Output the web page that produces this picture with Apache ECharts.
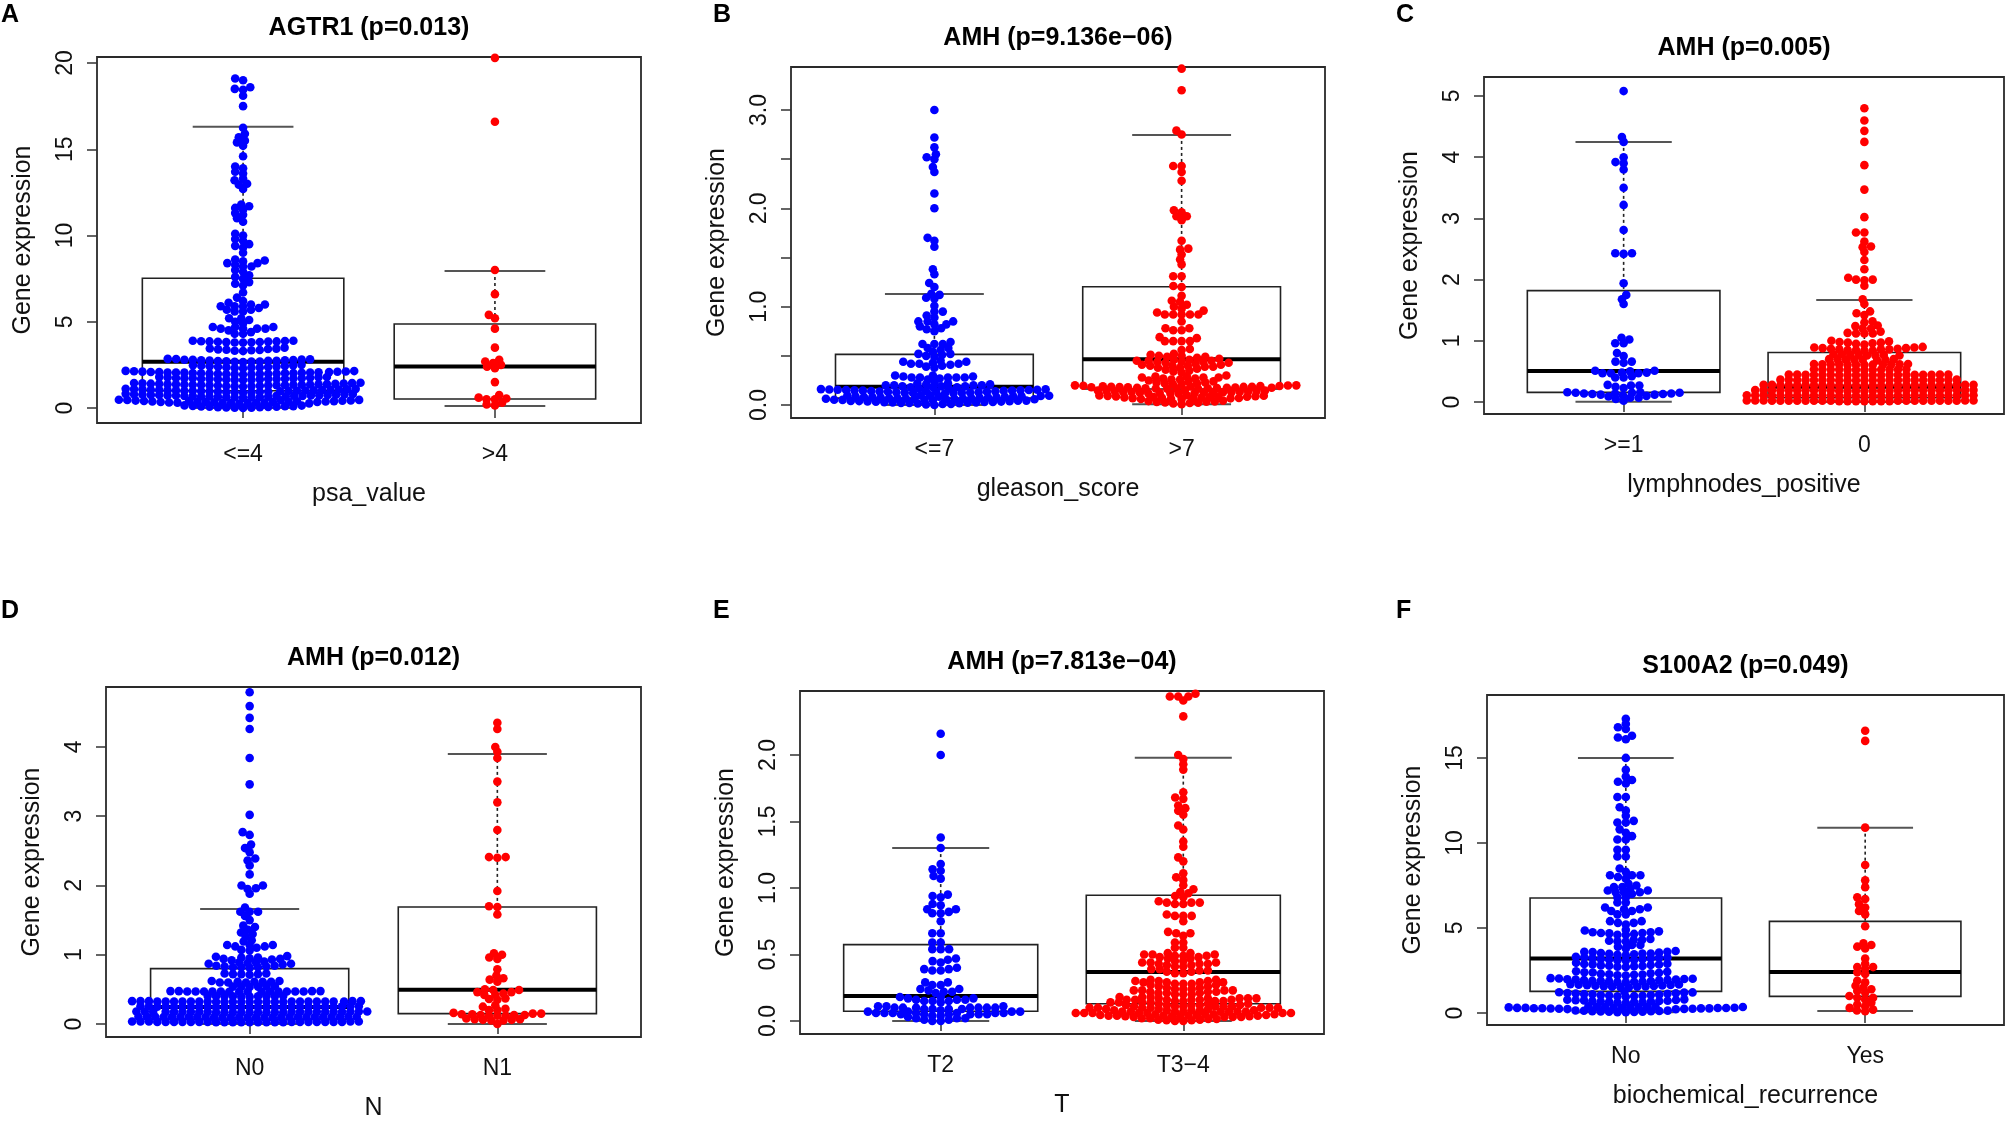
<!DOCTYPE html>
<html><head><meta charset="utf-8">
<script src="https://cdn.jsdelivr.net/npm/echarts@6/dist/echarts.min.js"></script>
<style>html,body{margin:0;padding:0;background:#fff}#c{width:2008px;height:1122px}</style>
</head><body><div id="c"></div>
<script>
// ---------------- DATA ----------------
const titles = ['AGTR1 (p=0.013)','AMH (p=9.136e\u221206)','AMH (p=0.005)','AMH (p=0.012)','AMH (p=7.813e\u221204)','S100A2 (p=0.049)'];
const letters = ['A','B','C','D','E','F'];
const xNames = ['psa_value','gleason_score','lymphnodes_positive','N','T','biochemical_recurrence'];
const categories = [['<=4','>4'],['<=7','>7'],['>=1','0'],['N0','N1'],['T2','T3\u22124'],['No','Yes']];
const yTicks = [[0,5,10,15,20],[0,0.5,1,1.5,2,2.5,3],[0,1,2,3,4,5],[0,1,2,3,4],[0,0.5,1,1.5,2],[0,5,10,15]];
const yTickLabels = [[0,5,10,15,20],[0,1,2,3],[0,1,2,3,4,5],[0,1,2,3,4],[0,0.5,1,1.5,2],[0,5,10,15]];
const yRanges = [[-0.87,20.35],[-0.132,3.437],[-0.196,5.31],[-0.188,4.866],[-0.098,2.481],[-0.706,18.7]];

// box stats: [lower whisker, Q1, median, Q3, upper whisker]
const boxA1 = [0.0, 1.0, 2.68, 7.52, 16.3];
const boxA2 = [0.12, 0.52, 2.40, 4.87, 7.94];
const boxB1 = [0.0, 0.07, 0.186, 0.515, 1.13];
const boxB2 = [0.007, 0.163, 0.465, 1.203, 2.746];
const boxC1 = [0.005, 0.158, 0.507, 1.82, 4.25];
const boxC2 = [0.0, 0.07, 0.25, 0.81, 1.667];
const boxD1 = [0.0, 0.07, 0.245, 0.80, 1.66];
const boxD2 = [0.0, 0.149, 0.496, 1.69, 3.90];
const boxE1 = [0.0, 0.073, 0.188, 0.574, 1.30];
const boxE2 = [0.0, 0.13, 0.368, 0.945, 1.98];
const boxF1 = [0.04, 1.27, 3.20, 6.76, 15.0];
const boxF2 = [0.12, 0.98, 2.41, 5.39, 10.9];

const aBlue = [19.1,19.0,18.6,18.5,18.45,18.1,17.5,16.25,15.9,15.7,15.5,15.4,15.2,14.6,14.0,13.9,13.7,13.6,13.3,13.2,13.0,12.95,12.7,
11.8,11.7,11.6,11.5,11.3,11.2,11.0,10.8,10.1,10.0,9.8,9.7,9.5,9.4,9.3,9.0,
8.6,8.55,8.5,8.4,8.4,8.3,8.2,8.2,8.0,7.9,7.7,7.6,7.5,7.3,7.2,7.1,
6.7,6.4,6.2,6.1,6.0,6.0,5.9,5.9,5.9,5.8,5.7,5.7,5.6,5.6,
5.2,5.2,5.1,5.0,4.9,4.7,4.7,4.7,4.6,4.6,4.6,4.6,4.5,4.4,4.3,4.3,
3.9,3.88,3.86,3.85,3.84,3.82,3.8,3.9,3.87,3.83,3.86,3.81,3.79,
3.5,3.45,3.42,3.4,3.38,3.35,3.3,3.44,3.36,3.32,
2.85,2.82,2.8,2.78,2.76,2.75,2.74,2.72,2.7,2.68,2.66,2.84,2.79,2.73,2.71,2.69,2.77,2.81,
2.5,2.47,2.45,2.42,2.4,2.38,2.36,2.34,2.32,2.3,2.44,2.39,2.35,2.48,
2.15,2.12,2.1,2.08,2.06,2.05,2.04,2.02,2.0,1.98,1.96,1.95,2.11,2.09,2.07,2.03,2.01,1.99,1.97,2.13,2.14,1.94,2.0,2.06,2.05,2.02,2.08,1.99,
1.8,1.78,1.75,1.73,1.72,1.7,1.68,1.66,1.65,1.62,1.77,1.74,1.71,1.69,1.67,1.64,1.79,1.63,1.7,1.72,1.68,
1.45,1.43,1.42,1.4,1.38,1.37,1.36,1.35,1.34,1.32,1.3,1.28,1.27,1.44,1.41,1.39,1.33,1.31,1.29,1.26,1.25,1.46,1.35,1.36,1.35,1.38,1.32,1.4,
1.12,1.1,1.08,1.06,1.05,1.03,1.02,1.0,0.99,0.97,0.96,0.95,0.93,0.92,1.11,1.09,1.07,1.04,1.01,0.98,0.94,0.91,0.9,1.0,1.0,1.03,0.97,1.05,
0.82,0.8,0.78,0.76,0.75,0.73,0.72,0.7,0.68,0.67,0.66,0.65,0.63,0.62,0.81,0.79,0.77,0.74,0.71,0.69,0.64,0.61,0.6,0.7,0.7,0.73,0.67,0.75,
0.48,0.46,0.45,0.43,0.42,0.4,0.39,0.38,0.36,0.35,0.34,0.33,0.31,0.3,0.47,0.44,0.41,0.37,0.32,0.29,0.28,0.27,0.26,0.35,0.35,0.38,0.32,0.4,0.3,
0.15,0.14,0.12,0.11,0.1,0.09,0.08,0.07,0.06,0.05,0.04,0.03,0.02,0.01,0.0];
const aRed = [20.3,16.6,8.0,6.6,5.4,5.2,4.6,3.5,2.8,2.7,2.6,2.5,2.4,2.3,1.5,0.75,0.6,0.55,0.5,0.5,0.3,0.2,0.15];

const bBlue = [3.0,2.72,2.62,2.55,2.52,2.5,2.42,2.37,2.15,2.0,1.7,1.67,1.61,1.38,1.33,1.24,1.2,1.13,1.12,1.09,1.08,1.01,0.95,0.95,0.91,0.89,0.85,0.85,0.85,0.82,0.82,0.8,0.78,0.77,0.75,0.64,0.62,0.62,0.62,0.58,0.58,0.56,0.54,0.52,0.52,0.51,0.5,0.49,
0.45,0.44,0.44,0.43,0.42,0.42,0.42,0.41,0.4,0.39,0.38,
0.3,0.3,0.29,0.29,0.28,0.28,0.28,0.28,0.28,0.27,0.26,
0.23,0.22,0.22,0.21,0.21,0.2,0.2,0.2,0.2,0.19,0.19,0.19,0.18,0.18,0.18,0.17,
0.165,0.162,0.16,0.158,0.156,0.155,0.153,0.152,0.15,0.149,0.148,0.146,0.145,0.143,0.142,0.14,0.138,0.136,0.135,0.133,0.131,0.13,0.128,0.126,0.125,0.123,0.121,0.12,
0.1,0.098,0.096,0.094,0.092,0.09,0.088,0.086,0.085,0.083,0.082,0.08,0.078,0.076,0.075,0.073,0.072,0.07,0.068,0.066,0.065,0.063,0.062,0.06,0.058,0.056,0.055,0.053,0.052,0.05,
0.045,0.043,0.041,0.04,0.038,0.036,0.035,0.033,0.031,0.03,0.028,0.026,0.025,0.023,0.021,0.02,0.018,0.015,0.012,0.01,0.005,0.0];
const bRed = [3.42,3.2,2.79,2.75,2.43,2.43,2.37,2.28,1.98,1.96,1.92,1.92,1.88,1.67,1.59,1.58,1.53,1.48,1.43,1.31,1.31,1.21,1.2,1.11,1.06,1.05,1.02,1.0,0.98,0.96,0.94,0.92,0.92,0.92,0.92,0.92,0.85,0.78,0.78,0.76,0.76,0.69,0.68,0.65,0.65,0.65,0.65,0.57,0.56,
0.52,0.51,0.5,0.5,0.49,0.49,0.48,
0.47,0.46,0.46,0.45,0.45,0.45,0.44,0.44,0.44,0.43,0.43,0.42,
0.41,0.41,0.4,0.4,0.4,0.39,0.39,0.38,0.38,0.37,
0.36,0.35,0.34,0.33,
0.3,0.29,0.29,0.28,0.28,0.28,0.27,0.27,0.26,0.26,
0.25,0.24,0.24,0.23,0.23,0.22,0.22,0.21,0.21,0.2,
0.2,0.198,0.196,0.194,0.192,0.19,0.188,0.186,0.185,0.184,0.182,0.18,0.179,0.178,0.176,0.175,0.174,0.172,0.17,0.169,0.168,0.166,0.165,0.164,
0.15,0.148,0.146,0.144,0.142,0.14,0.138,0.136,0.135,0.133,0.131,0.13,0.128,0.126,0.125,0.123,0.121,0.12,0.118,0.115,
0.1,0.098,0.095,0.093,0.09,0.088,0.086,0.084,0.082,0.08,0.078,0.076,0.074,0.072,0.07,0.068,0.066,0.064,0.062,0.06,
0.045,0.04,0.037,0.034,0.03,0.027,0.024,0.02,0.015,0.008];

const cBlue = [5.08,4.33,4.25,4.0,3.92,3.9,3.8,3.5,3.22,2.81,2.43,2.43,2.42,1.94,1.75,1.68,1.6,1.05,1.02,0.96,0.96,0.8,0.75,0.66,0.64,0.66,
0.51,0.47,0.42,0.48,0.51,0.47,0.48,0.47,0.5,0.4,0.4,0.28,0.25,0.23,0.27,0.27,
0.16,0.15,0.14,0.13,0.14,0.15,0.12,0.13,0.14,0.15,0.16,0.12,0.11,0.07,0.05,0.02,0.07,0.1,0.09];
const cRed = [4.8,4.6,4.43,4.25,3.87,3.47,3.02,2.77,2.77,2.62,2.54,2.53,2.45,2.32,2.17,2.03,2.0,2.0,1.99,1.9,1.68,1.6,1.48,1.45,1.42,1.32,1.3,1.25,1.24,1.2,1.2,1.15,1.13,1.12,1.12,1.12,
1.0,0.99,0.98,0.97,0.97,0.96,0.95,0.94,
0.9,0.89,0.89,0.88,0.88,0.87,0.87,0.86,0.86,0.86,0.85,0.85,0.84,0.84,
0.78,0.78,0.77,0.77,0.77,0.76,0.76,0.76,
0.7,0.7,0.7,0.69,0.69,0.69,0.69,0.68,
0.62,0.62,0.615,0.615,0.615,0.615,0.615,0.61,0.61,0.61,0.61,0.61,
0.535,0.535,0.53,0.53,0.53,0.53,0.53,0.53,0.525,0.525,0.525,0.525,
0.45,0.45,0.45,0.45,0.445,0.445,0.445,0.445,0.445,0.445,0.445,0.445,0.445,0.445,0.44,0.44,0.44,0.44,0.44,0.44,
0.365,0.365,0.365,0.365,0.36,0.36,0.36,0.36,0.36,0.36,0.36,0.36,0.36,0.36,0.36,0.36,0.355,0.355,0.355,0.355,0.355,0.355,
0.28,0.28,0.28,0.28,0.28,0.275,0.275,0.275,0.275,0.275,0.275,0.275,0.275,0.275,0.275,0.275,0.275,0.275,0.275,0.275,0.27,0.27,0.27,0.27,0.27,0.27,
0.195,0.195,0.195,0.195,0.195,0.19,0.19,0.19,0.19,0.19,0.19,0.19,0.19,0.19,0.19,0.19,0.19,0.19,0.19,0.19,0.185,0.185,0.185,0.185,0.185,0.185,0.185,
0.11,0.11,0.11,0.11,0.11,0.105,0.105,0.105,0.105,0.105,0.105,0.105,0.105,0.105,0.105,0.105,0.105,0.105,0.105,0.105,0.105,0.1,0.1,0.1,0.1,0.1,0.1,0.1,
0.025,0.025,0.025,0.025,0.025,0.02,0.02,0.02,0.02,0.02,0.02,0.02,0.02,0.02,0.02,0.02,0.02,0.02,0.02,0.02,0.02,0.015,0.015,0.015,0.015,0.015,0.015,0.015];

const dBlue = [4.79,4.59,4.42,4.26,3.84,3.46,3.02,2.77,2.73,2.59,2.54,2.48,2.39,2.36,2.29,2.16,2.0,2.0,1.96,1.95,1.88,1.68,1.62,1.62,1.62,1.56,1.5,1.42,1.4,1.36,1.32,1.3,1.26,1.21,1.19,1.14,1.14,1.14,1.12,1.12,1.1,1.07,1.06,
0.98,0.97,0.96,0.96,0.95,0.94,0.94,0.93,0.92,
0.9,0.89,0.89,0.88,0.87,0.87,0.86,
0.84,0.84,0.83,0.83,0.82,0.82,0.82,0.81,
0.73,0.73,0.72,0.72,0.72,0.71,
0.62,0.62,0.61,0.61,0.61,0.61,0.6,0.6,0.6,
0.545,0.545,0.54,0.54,0.54,0.535,
0.475,0.475,0.475,0.475,0.47,0.47,0.47,0.47,0.47,0.47,0.47,0.47,0.47,0.47,0.465,0.465,0.465,0.465,
0.405,0.405,0.4,0.4,0.4,0.4,0.4,0.4,0.395,0.395,
0.33,0.33,0.33,0.33,0.33,0.325,0.325,0.325,0.325,0.325,0.325,0.325,0.325,0.325,0.325,0.325,0.325,0.325,0.325,0.32,0.32,0.32,0.32,0.32,0.32,0.32,0.32,0.32,
0.255,0.255,0.255,0.255,0.255,0.25,0.25,0.25,0.25,0.25,0.25,0.25,0.25,0.25,0.25,0.25,0.25,0.25,0.245,0.245,0.245,0.245,0.245,0.245,0.245,0.245,0.245,
0.18,0.18,0.18,0.18,0.18,0.175,0.175,0.175,0.175,0.175,0.175,0.175,0.175,0.175,0.175,0.175,0.175,0.175,0.175,0.17,0.17,0.17,0.17,0.17,0.17,0.17,0.17,0.17,
0.105,0.105,0.105,0.105,0.105,0.1,0.1,0.1,0.1,0.1,0.1,0.1,0.1,0.1,0.1,0.1,0.1,0.1,0.095,0.095,0.095,0.095,0.095,0.095,0.095,0.095,0.095,
0.035,0.035,0.035,0.035,0.035,0.03,0.03,0.03,0.03,0.03,0.03,0.03,0.03,0.03,0.03,0.03,0.03,0.03,0.03,0.025,0.025,0.025,0.025,0.025,0.025,0.025,0.025,0.025];
const dRed = [4.35,4.26,4.0,3.93,3.84,3.5,3.2,2.8,2.41,2.4,2.41,1.92,1.7,1.69,1.58,1.02,1.0,0.96,0.94,0.79,0.7,0.66,0.64,0.61,0.5,0.49,0.49,0.46,0.46,0.44,0.42,0.42,0.37,0.36,0.35,0.27,0.25,0.22,0.2,0.2,0.16,0.15,0.15,0.14,0.14,0.13,0.13,0.13,0.12,0.12,0.12,0.08,0.07,0.07,0.06,0.06,0.05,0.05,0.0];

const eBlue = [2.16,2.0,1.38,1.3,1.18,1.14,1.13,1.09,1.07,0.95,0.94,0.93,0.88,0.87,0.84,0.84,0.82,0.81,0.81,0.75,0.66,0.66,0.59,0.59,0.54,0.54,0.54,0.47,0.46,0.45,0.44,0.4,0.39,0.39,0.38,0.38,0.29,0.29,0.27,0.27,0.24,0.24,0.23,0.22,0.22,0.21,
0.18,0.18,0.17,0.17,0.16,0.16,0.16,0.15,0.15,0.15,0.14,
0.11,0.11,0.11,0.1,0.1,0.1,0.1,0.1,0.09,0.09,0.09,0.09,0.08,0.1,0.1,
0.07,0.07,0.07,0.07,0.06,0.06,0.06,0.06,0.06,0.05,0.05,0.05,0.05,0.05,0.04,0.04,0.06,0.06,0.05,
0.03,0.02,0.02,0.02,0.01,0.01,0.0,0.0];
const eRed = [2.46,2.44,2.44,2.44,2.41,2.29,2.0,1.97,1.93,1.89,1.72,1.68,1.67,1.62,1.6,1.58,1.55,1.47,1.44,1.35,1.31,1.23,1.2,1.11,1.08,1.06,1.02,0.99,0.97,0.96,0.94,0.93,0.9,0.89,0.89,0.89,0.88,0.88,0.79,0.79,0.79,0.8,0.75,0.67,0.66,0.66,0.64,0.59,0.59,0.55,0.55,
0.51,0.51,0.5,0.5,0.5,0.49,0.49,0.49,0.48,0.48,0.47,0.47,
0.45,0.45,0.44,0.44,0.44,0.43,0.43,0.43,0.42,0.42,0.41,0.41,
0.39,0.39,0.38,0.38,0.37,0.37,0.36,0.36,
0.31,0.31,0.3,0.3,0.3,0.29,0.29,0.29,0.29,0.28,0.28,0.28,0.27,0.27,0.26,0.26,
0.25,0.25,0.24,0.24,0.24,0.23,0.23,0.23,0.23,0.22,0.22,0.22,0.21,0.21,0.21,0.2,0.2,0.2,
0.18,0.18,0.17,0.17,0.17,0.17,0.16,0.16,0.16,0.16,0.16,0.15,0.15,0.15,0.15,0.14,0.14,0.14,0.14,0.13,0.13,0.18,0.17,0.16,
0.12,0.12,0.12,0.11,0.11,0.11,0.11,0.11,0.1,0.1,0.1,0.1,0.1,0.09,0.09,0.09,0.12,0.11,0.1,0.13,0.12,0.1,
0.08,0.08,0.08,0.07,0.07,0.07,0.07,0.07,0.07,0.06,0.06,0.06,0.06,0.06,0.05,0.05,0.05,0.08,0.07,0.06,0.08,0.07,0.06,0.05,
0.045,0.045,0.04,0.04,0.04,0.04,0.035,0.035,0.035,0.03,0.03,0.03,0.045,0.04,0.035,0.03,
0.02,0.02,0.015,0.015,0.01,0.01,0.005,0.005,0.0,0.0];

const fBlue = [17.3,17.0,16.8,16.7,16.3,16.2,16.1,15.0,14.3,13.9,13.7,13.6,13.5,12.7,12.7,12.1,11.9,11.6,11.3,11.2,11.2,10.8,10.6,10.4,10.2,10.2,9.6,9.6,9.2,9.2,8.5,8.3,8.1,8.1,8.1,8.0,7.9,7.6,7.5,7.4,7.4,7.3,7.2,7.2,7.1,7.1,7.1,7.0,6.8,6.8,6.5,6.5,6.2,6.2,6.1,6.1,6.0,6.0,5.8,5.8,5.4,5.4,5.3,5.3,5.2,4.9,
4.85,4.8,4.75,4.7,4.7,4.65,4.6,4.6,4.75,4.68,
4.35,4.3,4.25,4.2,4.3,4.22,4.0,4.0,3.9,3.8,
3.65,3.6,3.58,3.55,3.52,3.5,3.48,3.45,3.42,3.4,3.6,3.5,
3.3,3.28,3.25,3.22,3.2,3.18,3.15,3.12,3.1,3.08,3.26,3.16,
2.95,2.9,2.88,2.85,2.82,2.8,2.78,2.75,2.72,2.7,2.86,2.76,
2.45,2.42,2.4,2.36,2.33,2.3,2.28,2.25,2.22,2.2,2.38,2.26,
2.05,2.03,2.0,1.98,1.96,1.94,1.92,1.9,1.88,1.86,1.84,1.82,1.8,2.01,1.95,1.89,1.85,1.97,
1.7,1.68,1.66,1.64,1.62,1.6,1.58,1.56,1.54,1.52,1.5,1.65,1.59,1.55,
1.25,1.22,1.2,1.18,1.15,1.13,1.1,1.08,1.05,1.03,1.0,0.98,0.96,1.21,1.16,1.11,1.06,1.01,
0.8,0.78,0.76,0.74,0.72,0.7,0.68,0.66,0.64,0.62,0.6,0.75,0.71,0.67,0.65,
0.4,0.38,0.37,0.36,0.35,0.34,0.33,0.32,0.31,0.3,0.3,0.29,0.29,0.28,0.28,0.27,0.26,0.25,0.24,0.23,0.22,0.35,0.32,0.3,0.27,0.25,
0.15,0.14,0.13,0.12,0.11,0.1,0.09,0.08,0.07,0.06,0.05,0.04];
const fRed = [16.6,16.0,10.9,8.7,7.8,7.4,6.8,6.7,6.4,6.2,6.0,5.8,5.1,4.1,4.0,3.9,3.8,3.2,2.9,2.7,2.7,2.6,2.4,2.3,1.9,1.8,1.6,1.5,1.4,1.3,1.2,1.0,0.9,0.9,0.8,0.6,0.5,0.4,0.3,0.2,0.15,0.1];

const groupValues = [[aBlue,aRed],[bBlue,bRed],[cBlue,cRed],[dBlue,dRed],[eBlue,eRed],[fBlue,fRed]];
const boxStats = [[boxA1,boxA2],[boxB1,boxB2],[boxC1,boxC2],[boxD1,boxD2],[boxE1,boxE2],[boxF1,boxF2]];
const yDecimals = [0,1,0,0,1,0];

// ---------------- LAYOUT / STYLE ----------------
const FONT = '"Liberation Sans", Arial, Helvetica, sans-serif';
const grids = [
  {l:97,  t:57,  r:641,  b:423},
  {l:791, t:67,  r:1325, b:418},
  {l:1484,t:77,  r:2004, b:414},
  {l:106, t:687, r:641,  b:1037},
  {l:800, t:691, r:1324, b:1034},
  {l:1487,t:695, r:2004, b:1025}
];
const letterPos = [[1,15],[713,15],[1396,15],[1,611],[713,611],[1396,611]];
const XMIN = 0.42, XMAX = 2.58;
const SYM = 8.6;          // drawn dot diameter (px)
const AX = 8.4, AY = 5.0; // swarm collision half-axes (px): horizontal, vertical
const COLORS = ['#0000ff','#ff0000'];

// beeswarm-like layout: points placed in ascending order at the offset closest to the centre
function swarm(pxVals) {
  const idx = pxVals.map((v,i)=>i).sort((a,b)=>pxVals[a]-pxVals[b]);
  const placed = [];
  const out = new Array(pxVals.length);
  for (const i of idx) {
    const y = pxVals[i];
    const near = placed.filter(p => Math.abs(p.y - y) < AY);
    const cands = [0];
    for (const p of near) {
      const r = (p.y-y)/AY;
      const dx = AX*Math.sqrt(1 - r*r);
      cands.push(p.x + dx, p.x - dx);
    }
    cands.sort((a,b)=>Math.abs(a)-Math.abs(b) || a-b);
    let chosen = 0;
    for (const c of cands) {
      let ok = true;
      for (const p of near) {
        const u = (p.x-c)/AX, w = (p.y-y)/AY;
        if (u*u + w*w < 0.999) { ok = false; break; }
      }
      if (ok) { chosen = c; break; }
    }
    placed.push({x:chosen, y});
    out[i] = chosen;
  }
  return out;
}

function renderBox(params, api) {
  const p = api.value(0), lo = api.value(1), q1 = api.value(2), md = api.value(3), q3 = api.value(4), hi = api.value(5);
  const hw = 0.4, cw = 0.2;
  const tl = api.coord([p-hw, q3]), br = api.coord([p+hw, q1]);
  const mL = api.coord([p-hw, md]), mR = api.coord([p+hw, md]);
  const t = api.coord([p, hi]), q3c = api.coord([p, q3]);
  const b = api.coord([p, lo]), q1c = api.coord([p, q1]);
  const cTL = api.coord([p-cw, hi]), cTR = api.coord([p+cw, hi]);
  const cBL = api.coord([p-cw, lo]), cBR = api.coord([p+cw, lo]);
  const dash = {stroke:'#222', lineWidth:1.6, lineDash:[3,3], fill:null};
  const cap = {stroke:'#555', lineWidth:2, fill:null};
  return {type:'group', children:[
    {type:'line', shape:{x1:t[0],y1:t[1],x2:q3c[0],y2:q3c[1]}, style:dash},
    {type:'line', shape:{x1:b[0],y1:b[1],x2:q1c[0],y2:q1c[1]}, style:dash},
    {type:'line', shape:{x1:cTL[0],y1:cTL[1],x2:cTR[0],y2:cTR[1]}, style:cap},
    {type:'line', shape:{x1:cBL[0],y1:cBL[1],x2:cBR[0],y2:cBR[1]}, style:cap},
    {type:'rect', shape:{x:tl[0],y:tl[1],width:br[0]-tl[0],height:br[1]-tl[1]}, style:{fill:null, stroke:'#222', lineWidth:1.6}},
    {type:'line', shape:{x1:mL[0],y1:mL[1],x2:mR[0],y2:mR[1]}, style:{stroke:'#000', lineWidth:4, fill:null}}
  ]};
}

const option = {animation:false, backgroundColor:'#fff', grid:[], xAxis:[], yAxis:[], series:[], graphic:[]};

grids.forEach((g,i)=>{
  const gw = g.r-g.l, gh = g.b-g.t;
  option.grid.push({left:g.l, top:g.t, width:gw, height:gh, show:true, borderColor:'#2a2a2a', borderWidth:1.8, backgroundColor:'transparent'});
  const cats = categories[i];
  option.xAxis.push({
    type:'value', gridIndex:i, min:XMIN, max:XMAX,
    axisLine:{show:false}, splitLine:{show:false},
    axisTick:{show:true, customValues:[1,2], length:10, lineStyle:{color:'#333', width:1.5}},
    axisLabel:{customValues:[1,2], formatter:v=>cats[Math.round(v)-1], margin:20, fontSize:23, fontFamily:FONT, color:'#111'},
    name:xNames[i], nameLocation:'middle', nameGap:59,
    nameTextStyle:{fontSize:25, fontFamily:FONT, color:'#111'}
  });
  const dec = yDecimals[i];
  const [ymin,ymax] = yRanges[i];
  option.yAxis.push({
    type:'value', gridIndex:i, min:ymin, max:ymax,
    axisLine:{show:false}, splitLine:{show:false},
    axisTick:{show:true, customValues:yTicks[i], length:10, lineStyle:{color:'#333', width:1.5}},
    axisLabel:{customValues:yTickLabels[i], formatter:v=>Number(v).toFixed(dec), rotate:90, margin:20, fontSize:23, fontFamily:FONT, color:'#111'},
    name:'Gene expression', nameLocation:'middle', nameGap:61,
    nameTextStyle:{fontSize:25, fontFamily:FONT, color:'#111'}
  });
  option.series.push({
    type:'custom', xAxisIndex:i, yAxisIndex:i, z:2, silent:true, clip:false,
    renderItem:renderBox,
    data:boxStats[i].map((s,k)=>[k+1].concat(s))
  });
  const pxPerX = gw/(XMAX-XMIN), pxPerY = gh/(ymax-ymin);
  groupValues[i].forEach((vals,k)=>{
    const offs = swarm(vals.map(v=>v*pxPerY));
    option.series.push({
      type:'scatter', xAxisIndex:i, yAxisIndex:i, z:3, silent:true,
      symbol:'circle', symbolSize:SYM, itemStyle:{color:COLORS[k], opacity:1},
      data:vals.map((v,j)=>[k+1+offs[j]/pxPerX, v])
    });
  });
  option.graphic.push({type:'text', x:(g.l+g.r)/2, y:g.t-29, z:10,
    style:{text:titles[i], font:'bold 25px '+FONT, fill:'#000', textAlign:'center', textVerticalAlign:'middle'}});
  option.graphic.push({type:'text', x:letterPos[i][0], y:letterPos[i][1], z:10,
    style:{text:letters[i], font:'bold 25px '+FONT, fill:'#000', textAlign:'left', textVerticalAlign:'middle'}});
});

const chart = echarts.init(document.getElementById('c'), null, {renderer:'canvas', width:2008, height:1122});
chart.setOption(option);
</script>
</body></html>
